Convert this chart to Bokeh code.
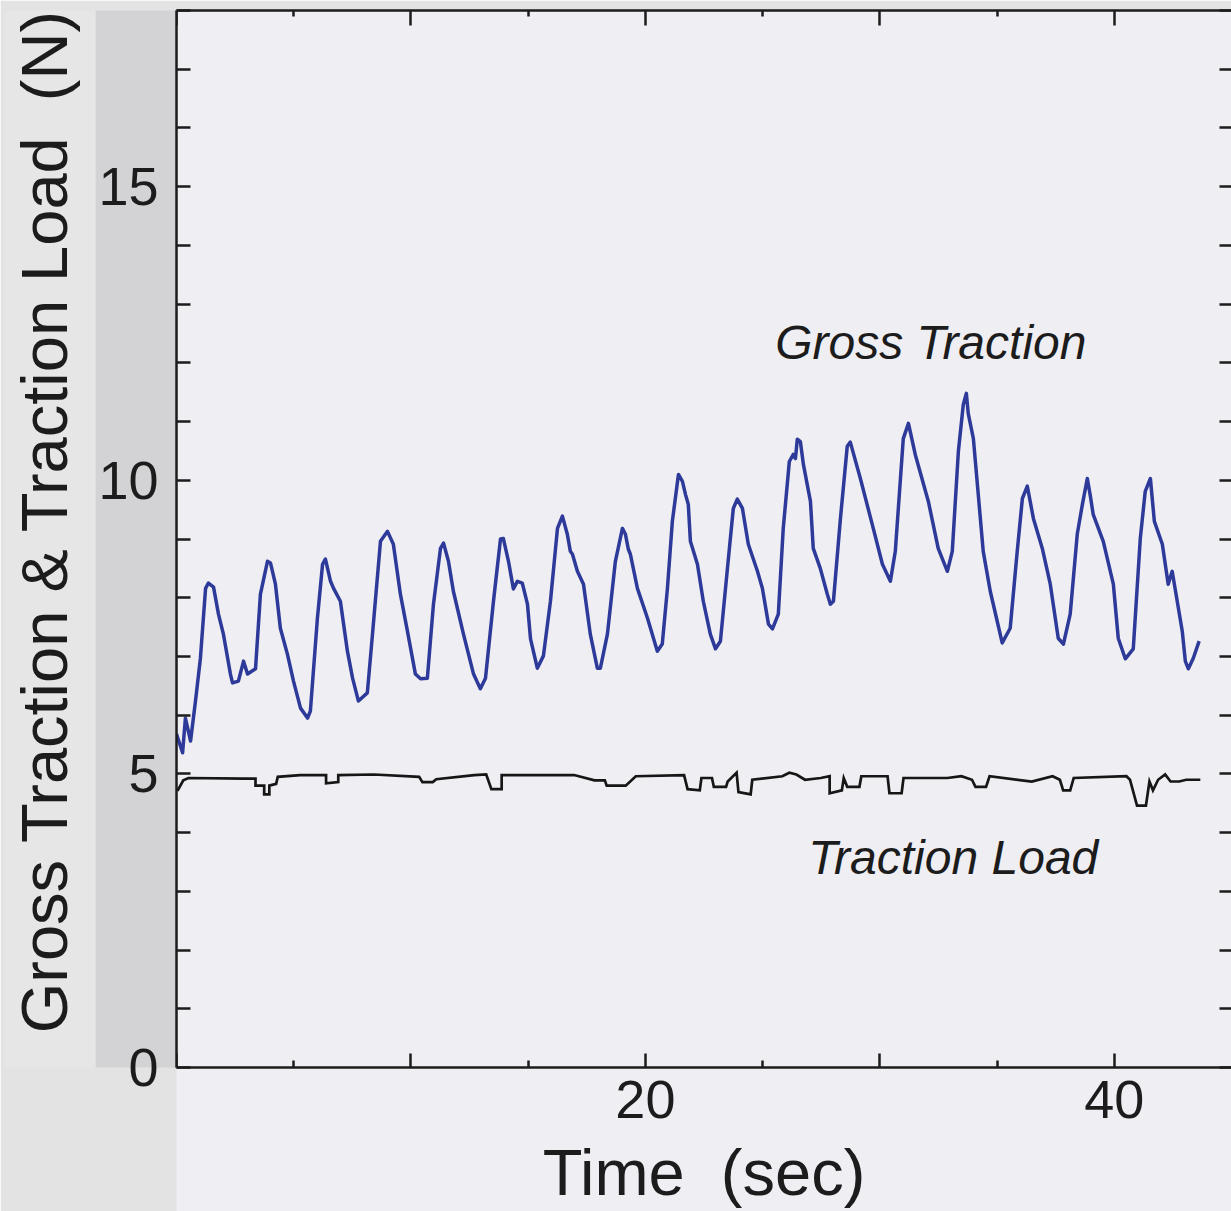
from bokeh.plotting import figure
from bokeh.models import (FixedTicker, CustomJSTickFormatter, LinearAxis, Label,
                          Range1d)
from bokeh.embed import file_html
from bokeh.resources import INLINE

# ---------------- data ----------------
gross_time = [
    0.00, 0.26, 0.38, 0.60, 0.81, 1.02, 1.24, 1.36, 1.58, 1.79,
    2.00, 2.30, 2.39, 2.64, 2.86, 3.03, 3.37, 3.58, 3.88, 4.01,
    4.22, 4.43, 4.73, 4.99, 5.29, 5.59, 5.71, 6.01, 6.23, 6.35,
    6.57, 6.70, 6.99, 7.29, 7.51, 7.76, 8.14, 8.36, 8.70, 9.00,
    9.25, 9.55, 9.85, 10.19, 10.41, 10.70, 10.96, 11.26, 11.39, 11.60,
    11.81, 12.24, 12.67, 12.96, 13.18, 13.52, 13.82, 13.94, 14.16, 14.37,
    14.54, 14.75, 14.97, 15.10, 15.39, 15.65, 15.95, 16.25, 16.46, 16.67,
    16.80, 16.89, 17.10, 17.36, 17.65, 17.95, 18.08, 18.38, 18.72, 19.02,
    19.15, 19.27, 19.36, 19.66, 20.09, 20.51, 20.72, 20.94, 21.15, 21.41,
    21.58, 21.71, 21.83, 21.92, 22.22, 22.47, 22.77, 22.99, 23.20, 23.50,
    23.75, 23.92, 24.14, 24.39, 24.78, 24.99, 25.25, 25.42, 25.67, 25.88,
    26.14, 26.31, 26.40, 26.48, 26.61, 26.74, 27.04, 27.16, 27.46, 27.76,
    27.89, 28.02, 28.32, 28.61, 28.74, 29.17, 29.72, 30.11, 30.45, 30.66,
    31.00, 31.22, 31.51, 32.07, 32.49, 32.88, 33.09, 33.35, 33.56, 33.69,
    33.77, 33.99, 34.41, 34.71, 35.22, 35.56, 35.86, 36.08, 36.29, 36.55,
    36.93, 37.27, 37.61, 37.83, 38.12, 38.42, 38.64, 38.85, 38.98, 39.10,
    39.53, 39.96, 40.17, 40.47, 40.81, 41.11, 41.32, 41.54, 41.71, 42.05,
    42.30, 42.47, 42.90, 43.03, 43.16, 43.37, 43.62,
]
gross_traction = [
    5.68, 5.36, 5.95, 5.56, 6.24, 6.97, 8.16, 8.25, 8.18, 7.72,
    7.38, 6.70, 6.55, 6.58, 6.92, 6.70, 6.79, 8.06, 8.62, 8.59,
    8.23, 7.48, 7.04, 6.58, 6.12, 5.95, 6.07, 7.65, 8.57, 8.66,
    8.28, 8.16, 7.94, 7.09, 6.63, 6.24, 6.38, 7.38, 8.96, 9.13,
    8.91, 8.06, 7.43, 6.70, 6.62, 6.63, 7.89, 8.84, 8.93, 8.62,
    8.11, 7.38, 6.70, 6.45, 6.63, 7.94, 9.00, 9.01, 8.62, 8.15,
    8.28, 8.25, 7.89, 7.30, 6.80, 7.01, 7.94, 9.18, 9.39, 9.08,
    8.79, 8.74, 8.45, 8.23, 7.38, 6.80, 6.80, 7.38, 8.62, 9.18,
    9.08, 8.83, 8.74, 8.16, 7.65, 7.09, 7.21, 8.16, 9.30, 10.10,
    9.98, 9.76, 9.59, 8.96, 8.57, 7.94, 7.38, 7.13, 7.26, 8.50,
    9.52, 9.68, 9.52, 8.91, 8.45, 8.16, 7.55, 7.47, 7.72, 9.18,
    10.32, 10.44, 10.37, 10.70, 10.66, 10.27, 9.64, 8.84, 8.50, 8.06,
    7.89, 7.94, 9.35, 10.58, 10.65, 10.03, 9.18, 8.57, 8.28, 8.79,
    10.71, 10.97, 10.44, 9.64, 8.84, 8.45, 8.79, 10.49, 11.29, 11.48,
    11.14, 10.71, 8.79, 8.11, 7.23, 7.48, 8.79, 9.69, 9.90, 9.35,
    8.84, 8.23, 7.31, 7.21, 7.72, 9.08, 9.59, 10.03, 9.73, 9.42,
    8.96, 8.23, 7.31, 6.96, 7.13, 9.01, 9.81, 10.03, 9.30, 8.91,
    8.23, 8.45, 7.43, 6.92, 6.79, 6.97, 7.26,
]

load_time = [
    0.04, 0.29, 0.51, 2.86, 3.37, 3.37, 3.74, 3.74, 3.96, 3.96,
    4.25, 4.32, 5.28, 6.38, 6.38, 6.90, 6.90, 8.43, 10.35, 10.49,
    10.93, 11.08, 12.70, 13.21, 13.43, 13.87, 13.87, 16.96, 17.83, 18.27,
    18.35, 19.16, 19.59, 21.65, 21.80, 22.32, 22.39, 22.84, 22.92, 23.44,
    23.51, 23.89, 23.97, 24.49, 24.56, 25.84, 26.14, 26.44, 26.81, 27.48,
    27.86, 27.86, 28.38, 28.46, 28.61, 29.13, 29.21, 30.33, 30.41, 30.93,
    31.01, 32.88, 33.48, 33.93, 34.08, 34.53, 34.68, 36.48, 37.37, 37.68,
    37.82, 38.12, 38.27, 40.52, 40.67, 40.97, 41.35, 41.50, 41.65, 41.87,
    42.17, 42.40, 42.77, 43.07, 43.67,
]
traction_load = [
    4.71, 4.89, 4.93, 4.92, 4.92, 4.80, 4.80, 4.65, 4.65, 4.80,
    4.83, 4.95, 4.98, 4.98, 4.84, 4.86, 4.98, 4.99, 4.95, 4.86,
    4.86, 4.91, 4.98, 4.99, 4.74, 4.74, 4.98, 4.98, 4.89, 4.89,
    4.80, 4.80, 4.96, 4.98, 4.74, 4.72, 4.93, 4.93, 4.78, 4.78,
    4.87, 5.02, 4.69, 4.65, 4.90, 4.96, 5.02, 4.99, 4.90, 4.93,
    4.96, 4.67, 4.72, 4.93, 4.78, 4.78, 4.96, 4.96, 4.67, 4.67,
    4.93, 4.93, 4.96, 4.90, 4.78, 4.78, 4.96, 4.87, 4.96, 4.90,
    4.72, 4.72, 4.93, 4.96, 4.90, 4.46, 4.46, 4.87, 4.72, 4.90,
    4.99, 4.87, 4.87, 4.90, 4.90,
]

x_major = [0, 10, 20, 30, 40]
x_minor = [5, 15, 25, 35]
x_labeled = [20, 40]
y_ticks = list(range(0, 19))
y_labeled = [0, 5, 10, 15]

FONT = "Liberation Sans"
INK = "#1c1c1c"
BG = "#EFEEF3"

p = figure(width=1231, height=1211,
           x_range=Range1d(0, 45), y_range=Range1d(0, 18),
           output_backend="svg", toolbar_location=None,
           min_border_left=176, min_border_right=0,
           min_border_top=10, min_border_bottom=144,
           background_fill_color=BG, border_fill_color="#E3E3E4",
           x_axis_label="Time \u00a0(sec)")
p.grid.visible = False
p.outline_line_color = None

xlab_code = "return %s.includes(tick) ? tick.toFixed(0) : '';" % str(x_labeled)
ylab_code = "return %s.includes(tick) ? tick.toFixed(0) : '';" % str(y_labeled)
blank = "return '';"


def style(ax, tick_in, minor_in, label_size, standoff):
    ax.axis_line_width = 2.5
    ax.axis_line_color = INK
    ax.major_tick_in = tick_in
    ax.major_tick_out = 0
    ax.minor_tick_in = minor_in
    ax.minor_tick_out = 0
    ax.major_tick_line_width = 2.5
    ax.minor_tick_line_width = 2.5
    ax.major_tick_line_color = INK
    ax.minor_tick_line_color = INK
    ax.major_label_text_font = FONT
    ax.major_label_text_font_size = label_size
    ax.major_label_text_color = INK
    ax.major_label_standoff = standoff


# bottom axis
xb = p.xaxis[0]
xb.ticker = FixedTicker(ticks=x_major, minor_ticks=x_minor)
xb.formatter = CustomJSTickFormatter(code=xlab_code)
style(xb, 14, 7, "54px", 13)
xb.axis_label_text_font = FONT
xb.axis_label_text_font_size = "65px"
xb.axis_label_text_font_style = "normal"
xb.axis_label_text_color = INK
xb.axis_label_standoff = 15
xb.background_fill_color = BG

# left axis (ticks and numbers)
yl = p.yaxis[0]
yl.ticker = FixedTicker(ticks=y_ticks, minor_ticks=[])
yl.formatter = CustomJSTickFormatter(code=ylab_code)
style(yl, 14, 0, "54px", 18)
yl.background_fill_color = "#D3D3D5"

# outer left axis carrying only the title
yt = LinearAxis(ticker=FixedTicker(ticks=[], minor_ticks=[]),
                formatter=CustomJSTickFormatter(code=blank),
                axis_label="\u00a0\u00a0Gross Traction & Traction Load \u00a0(N)")
yt.axis_line_color = None
yt.major_label_text_font_size = "0px"
yt.major_label_standoff = 0
yt.axis_label_text_font = FONT
yt.axis_label_text_font_size = "65px"
yt.axis_label_text_font_style = "normal"
yt.axis_label_text_color = INK
yt.axis_label_standoff = 15
yt.background_fill_color = "#E6E6E6"
p.add_layout(yt, "left")

# top and right frame axes
xt = LinearAxis(ticker=FixedTicker(ticks=x_major, minor_ticks=x_minor),
                formatter=CustomJSTickFormatter(code=blank))
style(xt, 15, 6, "0px", 0)
xt.background_fill_color = BG
p.add_layout(xt, "above")

yr = LinearAxis(ticker=FixedTicker(ticks=y_ticks, minor_ticks=[]),
                formatter=CustomJSTickFormatter(code=blank))
style(yr, 12, 0, "0px", 0)
yr.axis_line_color = None
p.add_layout(yr, "right")

# curves
p.line(gross_time, gross_traction, line_color="#2D3A99", line_width=3.5,
       line_join="round")
p.line(load_time, traction_load, line_color="#161616", line_width=2.7,
       line_join="miter")

# texts
p.add_layout(Label(x=25.54, y=12.35, text="Gross Traction",
                   text_align="left", text_baseline="middle",
                   text_font=FONT, text_font_size="48px",
                   text_font_style="italic", text_color=INK))
p.add_layout(Label(x=26.95, y=3.57, text="Traction Load",
                   text_align="left", text_baseline="middle",
                   text_font=FONT, text_font_size="48px",
                   text_font_style="italic", text_color=INK))

open("out.html", "w").write(file_html(p, INLINE))
